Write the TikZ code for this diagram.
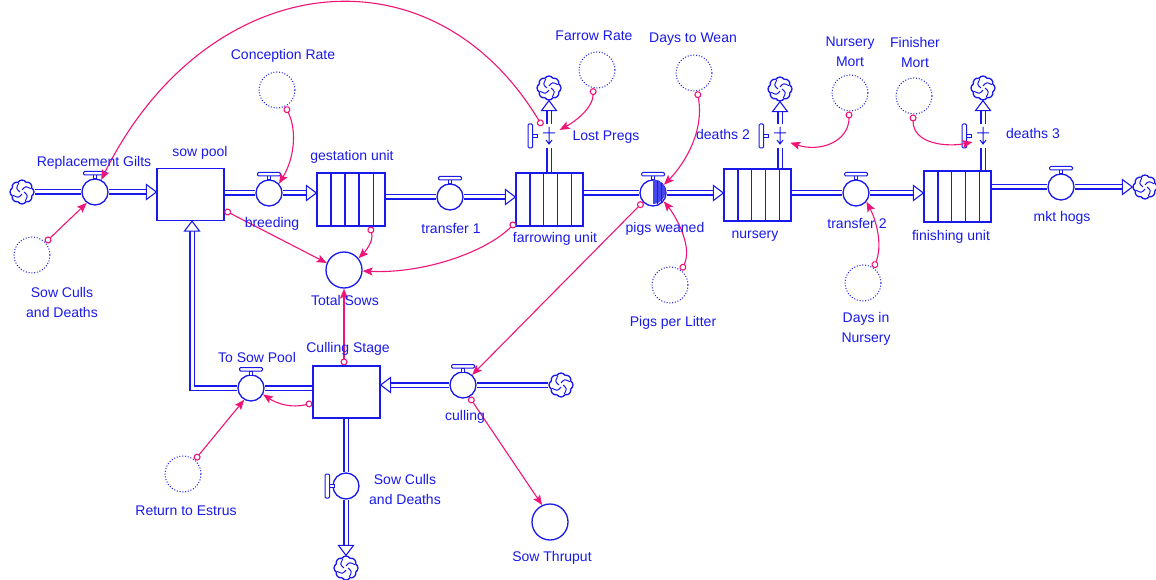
\documentclass[tikz,border=0pt]{standalone}
\usepackage{fontspec}
\setmainfont{Liberation Sans}
\usetikzlibrary{arrows.meta,shapes.symbols,calc}
\definecolor{fblue}{RGB}{25,25,235}
\definecolor{lpink}{RGB}{240,20,120}
\newcommand\labfont{\fontsize{14}{20}\selectfont}
\tikzset{
  swirl/.pic={\foreach \a in {0,90,180,270}{\draw[fblue,line width=1pt] (\a:2) .. controls (\a+30:7) .. (\a+70:9.5);}},
  tophandle/.pic={\draw[fblue,line width=1pt,fill=white] (-1.8,-13) rectangle (1.8,-17);
                  \draw[fblue,line width=1pt,fill=white,rounded corners=1.2pt] (-11.5,-17) rectangle (11.5,-20.5);},
  sidehandle/.pic={\draw[fblue,line width=1pt,fill=white] (-16.5,-1.8) rectangle (-12,1.8);
                   \draw[fblue,line width=1pt,fill=white,rounded corners=1.2pt] (-21,-12) rectangle (-16.5,12);},
  flowtick/.pic={\draw[fblue,line width=1pt] (-6,-3) -- (6,-3) (0,-9) -- (0,8) (-3,4) -- (0,8) -- (3,4);},
}
\begin{document}
\begin{tikzpicture}[x=1pt,y=-1pt,
  stock/.style={draw=fblue, fill=white, rectangle, line width=1.2pt, minimum width=67pt, minimum height=52pt, inner sep=0pt},
  conveyor/.style={stock, path picture={\foreach \f in {0.21,0.41,0.62,0.83}{\draw[fblue,line width=1.6pt] ($(path picture bounding box.south west)!\f!(path picture bounding box.south east)$) -- ($(path picture bounding box.north west)!\f!(path picture bounding box.north east)$);}}},
  valve/.style={circle, draw=fblue, fill=white, line width=1.3pt, minimum size=26pt, inner sep=0pt},
  aux/.style={circle, draw=fblue, line width=1pt, dash pattern=on 1pt off 1.8pt, minimum size=36pt, inner sep=0pt},
  conv/.style={circle, draw=fblue, fill=white, line width=1.3pt, minimum size=36pt, inner sep=0pt},
  sink/.style={cloud, cloud puffs=8, cloud puff arc=120, aspect=1, draw=fblue, fill=white, line width=1.3pt, minimum width=24pt, minimum height=24pt, inner sep=0pt},
  tap/.style={circle, minimum size=24pt, inner sep=0pt},
  lbl/.style={text=fblue, font=\labfont, inner sep=0pt, align=center},
  pipe/.style={draw=fblue, double=white, double distance=3pt, line width=1.1pt},
  head/.style={draw=fblue, fill=white, line width=1.1pt, line join=miter},
  link/.style={draw=lpink, line width=1.1pt, {Circle[open,length=7pt,width=7pt]}-{Stealth[length=10pt,width=8pt,inset=2pt]}},
]
\useasboundingbox (0,0) rectangle (1156,580);

% main chain of stocks and flows
\node[sink] (c1) at (22,192) {};
\node[valve] (rg) at (95,192) {};
\node[stock] (sp) at (190.5,194.5) {};
\node[valve] (bv) at (269,193) {};
\node[conveyor, minimum width=68pt, minimum height=53pt] (gu) at (351,199.5) {};
\node[valve] (t1) at (450,197) {};
\node[conveyor, minimum height=53pt] (fu) at (549.5,199.5) {};
\node[valve] (pw) at (653,193) {};
\node[conveyor] (nu) at (757.5,195) {};
\node[valve] (t2) at (856,193) {};
\node[conveyor, minimum height=51pt] (fin) at (957.5,196.5) {};
\node[valve] (mh) at (1061,187) {};
\node[sink] (c2) at (1145,187) {};

% mortality outflows
\node[tap] (lpv) at (549,136) {};
\node[sink] (c3) at (549,88) {};
\node[tap] (d2v) at (780,136) {};
\node[sink] (c4) at (780,89) {};
\node[tap] (d3v) at (983,136) {};
\node[sink] (c5) at (983,88) {};

% culling loop
\node[stock] (cs) at (346.5,392) {};
\node[valve] (cv) at (463,385) {};
\node[sink] (c6) at (561,385) {};
\node[valve] (tsp) at (251,388) {};
\coordinate (bend) at (192,388);
\node[valve] (scv) at (346,486) {};
\node[sink] (c7) at (346,568) {};

% auxiliaries and converters
\node[aux] (scda) at (32,255) {};
\node[aux] (cr) at (277,90) {};
\node[aux] (fr) at (597,70) {};
\node[aux] (dw) at (694,73) {};
\node[aux] (pl) at (670,285) {};
\node[aux] (nm) at (850,93) {};
\node[aux] (fm) at (914,96) {};
\node[aux] (dn) at (863,283) {};
\node[aux] (re) at (183,474) {};
\node[conv] (ts) at (344,270) {};
\node[conv] (st) at (550,522) {};

% cloud swirls
\foreach \c in {c1,c2,c3,c4,c5,c6,c7} {\pic at (\c) {swirl};}

% pipes
\draw[pipe] (c1.east) -- (rg.west);
\draw[pipe, shorten >=10pt] (rg.east) -- (sp.west |- rg.east);
\draw[head] (sp.west |- rg.east) -- ++(-10,-7.5) -- ++(0,15) -- cycle;
\draw[pipe] (sp.east |- bv.west) -- (bv.west);
\draw[pipe, shorten >=10pt] (bv.east) -- (gu.west |- bv.east);
\draw[head] (gu.west |- bv.east) -- ++(-10,-7.5) -- ++(0,15) -- cycle;
\draw[pipe] (gu.east |- t1.west) -- (t1.west);
\draw[pipe, shorten >=10pt] (t1.east) -- (fu.west |- t1.east);
\draw[head] (fu.west |- t1.east) -- ++(-10,-7.5) -- ++(0,15) -- cycle;
\draw[pipe] (fu.east |- pw.west) -- (pw.west);
\draw[pipe, shorten >=10pt] (pw.east) -- (nu.west |- pw.east);
\draw[head] (nu.west |- pw.east) -- ++(-10,-7.5) -- ++(0,15) -- cycle;
\draw[pipe] (nu.east |- t2.west) -- (t2.west);
\draw[pipe, shorten >=10pt] (t2.east) -- (fin.west |- t2.east);
\draw[head] (fin.west |- t2.east) -- ++(-10,-7.5) -- ++(0,15) -- cycle;
\draw[pipe] (fin.east |- mh.west) -- (mh.west);
\draw[pipe, shorten >=10pt] (mh.east) -- (c2.west);
\draw[head] (c2.west) -- ++(-10,-7.5) -- ++(0,15) -- cycle;

\draw[pipe] (fu.north -| lpv) -- (lpv.south);
\draw[pipe, shorten >=10pt] (lpv.north) -- (c3.south);
\draw[head] (c3.south) -- ++(-7.5,10) -- ++(15,0) -- cycle;
\draw[pipe] (nu.north -| d2v) -- (d2v.south);
\draw[pipe, shorten >=10pt] (d2v.north) -- (c4.south);
\draw[head] (c4.south) -- ++(-7.5,10) -- ++(15,0) -- cycle;
\draw[pipe] (fin.north -| d3v) -- (d3v.south);
\draw[pipe, shorten >=10pt] (d3v.north) -- (c5.south);
\draw[head] (c5.south) -- ++(-7.5,10) -- ++(15,0) -- cycle;

\draw[pipe] (c6.west) -- (cv.east);
\draw[pipe, shorten >=10pt] (cv.west) -- (cs.east |- cv.west);
\draw[head] (cs.east |- cv.west) -- ++(10,-7.5) -- ++(0,15) -- cycle;
\draw[pipe] (cs.west |- tsp.east) -- (tsp.east);
\draw[pipe, shorten >=10pt, line join=miter] (tsp.west) -- (bend) -- (sp.south -| bend);
\draw[head] (sp.south -| bend) -- ++(-7.5,10) -- ++(15,0) -- cycle;
\draw[pipe] (cs.south -| scv) -- (scv.north);
\draw[pipe, shorten >=10pt] (scv.south) -- (c7.north);
\draw[head] (c7.north) -- ++(-7.5,-10) -- ++(15,0) -- cycle;

% valve handles and marks
\foreach \v in {rg,bv,t1,pw,t2,mh,tsp,cv} {\pic at (\v) {tophandle};}
\foreach \v in {lpv,d2v,d3v,scv} {\pic at (\v) {sidehandle};}
\foreach \v in {lpv,d2v,d3v} {\pic at (\v) {flowtick};}
\fill[fblue!80] (pw.north) arc[start angle=90, end angle=-90, radius=12.4pt] -- cycle;
\draw[fblue, line width=0.8pt] ($(pw.center)+(4,-11.5)$) -- ($(pw.center)+(4,11.5)$)
  ($(pw.center)+(8,-9.5)$) -- ($(pw.center)+(8,9.5)$);

% information links
\draw[link] (lpv.124) .. controls (430,-60) and (205,-30) .. (rg.63);
\draw[link] (scda.43) -- (rg.-127);
\draw[link] (cr.-63) .. controls +(12,25) and +(15,-25) .. (bv.43);
\draw[link] (sp.-25) -- (ts.158);
\draw[link] (gu.-55) .. controls +(4,15) and +(6,-6) .. (ts.39);
\draw[link] (fu.-146) .. controls +(-30,30) and +(60,3) .. (ts.-3);
\draw[link] (fr.-102) .. controls +(0,20) and +(15,-8) .. (lpv.30);
\draw[link] (dw.-80) .. controls +(8,45) and +(15,-15) .. (pw.37);
\draw[link] (pl.52) .. controls +(12,-25) and +(10,12) .. (pw.-38);
\draw[link] (pw.-138) -- (cv.48);
\draw[link] (nm.-93) .. controls +(0,30) and +(30,10) .. (d2v.-33);
\draw[link] (fm.-93) .. controls +(0,30) and +(-25,5) .. (d3v.-150);
\draw[link] (dn.55) .. controls +(10,-25) and +(8,15) .. (t2.-40);
\draw[link] (cs.north -| ts) -- (ts.south);
\draw[link] (cs.-162) .. controls +(-20,5) and +(15,10) .. (tsp.-28);
\draw[link] (re.50) -- (tsp.-120);
\draw[link] (cv.-62) -- (st.115);

% labels
\node[lbl] (l-rg) at (94,163) {Replacement Gilts};
\node[lbl] (l-sp) at (200,153) {sow pool};
\node[lbl] (l-cr) at (283,56) {Conception Rate};
\node[lbl] (l-gu) at (352,157) {gestation unit};
\node[lbl] (l-bv) at (272,224) {breeding};
\node[lbl] (l-t1) at (451,229) {transfer 1};
\node[lbl] (l-fu) at (555,239) {farrowing unit};
\node[lbl] (l-ts) at (345,300) {Total Sows};
\node[lbl] (l-fr) at (594,36) {Farrow Rate};
\node[lbl] (l-lp) at (606,137) {Lost Pregs};
\node[lbl] (l-dw) at (693,39) {Days to Wean};
\node[lbl] (l-pw) at (665,229) {pigs weaned};
\node[lbl] (l-d2) at (723,134) {deaths 2};
\node[lbl] (l-nu) at (755,236) {nursery};
\node[lbl] (l-nm) at (850,52) {Nursery\\Mort};
\node[lbl] (l-fm) at (915,52) {Finisher\\Mort};
\node[lbl] (l-d3) at (1033,133) {deaths 3};
\node[lbl] (l-t2) at (857,224) {transfer 2};
\node[lbl] (l-fin) at (951,237) {finishing unit};
\node[lbl] (l-mh) at (1062,218) {mkt hogs};
\node[lbl] (l-pl) at (673,323) {Pigs per Litter};
\node[lbl] (l-dn) at (866,329) {Days in\\Nursery};
\node[lbl] (l-scda) at (62,302) {Sow Culls\\and Deaths};
\node[lbl] (l-tsp) at (257,357) {To Sow Pool};
\node[lbl] (l-cs) at (348,349) {Culling Stage};
\node[lbl] (l-cv) at (465,417) {culling};
\node[lbl] (l-scv) at (405,489) {Sow Culls\\and Deaths};
\node[lbl] (l-re) at (186,511) {Return to Estrus};
\node[lbl] (l-st) at (552,558) {Sow Thruput};
\end{tikzpicture}
\end{document}
